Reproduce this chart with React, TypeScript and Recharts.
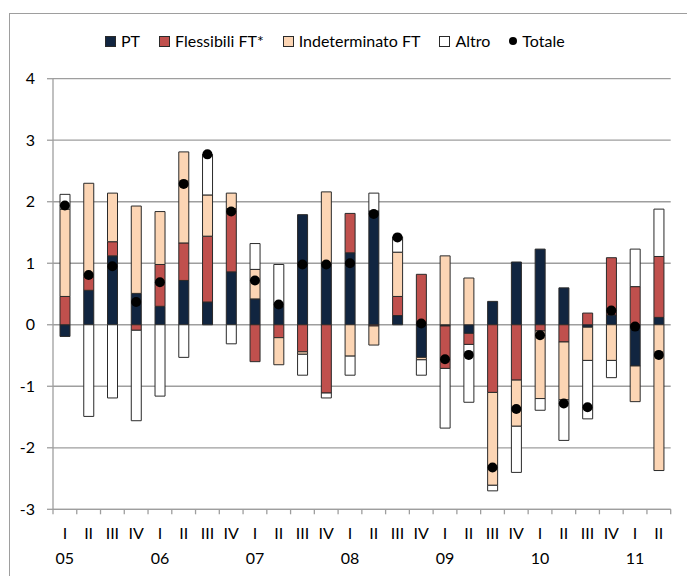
import React from 'react';
import { ComposedChart, Bar, Line, XAxis, YAxis, CartesianGrid, Legend } from 'recharts';

const quarterLabels = ['I','II','III','IV','I','II','III','IV','I','II','III','IV','I','II','III','IV','I','II','III','IV','I','II','III','IV','I','II'];
const yearLabels = ['05','','','','06','','','','07','','','','08','','','','09','','','','10','','','','11',''];

const pt = [-0.19, 0.56, 1.12, 0.51, 0.30, 0.72, 0.37, 0.86, 0.42, 0.30, 1.79, 1.00, 1.17, 1.85, 0.15, -0.53, -0.02, -0.14, 0.38, 1.02, 1.23, 0.60, -0.04, 0.16, -0.67, 0.12];
const flessibili = [0.46, 0.22, 0.23, -0.09, 0.68, 0.61, 1.07, 1.03, -0.60, -0.21, -0.44, -1.11, 0.64, -0.02, 0.31, 0.82, -0.69, -0.18, -1.10, -0.90, -0.10, -0.28, 0.19, 0.93, 0.62, 0.99];
const indeterminato = [1.42, 1.52, 0.79, 1.42, 0.86, 1.48, 0.67, 0.25, 0.48, -0.44, -0.04, 1.16, -0.51, -0.31, 0.72, -0.04, 1.12, 0.76, -1.51, -0.75, -1.10, -0.94, -0.54, -0.58, -0.58, -2.37];
const altro = [0.24, -1.49, -1.19, -1.47, -1.16, -0.53, 0.66, -0.31, 0.42, 0.68, -0.34, -0.08, -0.31, 0.29, 0.25, -0.25, -0.97, -0.94, -0.09, -0.75, -0.19, -0.66, -0.95, -0.28, 0.61, 0.77];
const totale = [1.94, 0.81, 0.95, 0.37, 0.69, 2.29, 2.77, 1.84, 0.72, 0.33, 0.98, 0.98, 1.00, 1.80, 1.42, 0.02, -0.56, -0.49, -2.32, -1.37, -0.17, -1.28, -1.34, 0.23, -0.03, -0.49];
const yTicks = [-3, -2, -1, 0, 1, 2, 3, 4];

const C_PT = '#112540';
const C_FLEX = '#c0504d';
const C_IND = '#fcd5b4';
const C_ALT = '#ffffff';
const EDGE = '#2a2a2a';
const GRID = '#9e9e9e';
const FONT = 'Lato, "Open Sans", sans-serif';
const FS = 16;

const data = quarterLabels.map((q, i) => ({
  cat: `${i}`,
  q,
  yr: yearLabels[i],
  pt: pt[i],
  flex: flessibili[i],
  ind: indeterminato[i],
  alt: altro[i],
  tot: totale[i],
}));

const XTick = (props: any) => {
  const { x, y, payload, index } = props;
  const i = typeof index === 'number' ? index : Number(payload.value);
  const off = payload.offset ?? 0;
  const row = data[i];
  return (
    <g>
      <line x1={x - off} x2={x - off} y1={y} y2={y + 5} stroke={GRID} strokeWidth={1.3} />
      {i === data.length - 1 && (
        <line x1={x + off} x2={x + off} y1={y} y2={y + 5} stroke={GRID} strokeWidth={1.3} />
      )}
      <text x={x} y={y + 30} textAnchor="middle" fontSize={FS} fontFamily={FONT} fill="#000">{row.q}</text>
      {row.yr && (
        <text x={x} y={y + 55} textAnchor="middle" fontSize={FS} fontFamily={FONT} fill="#000">{row.yr}</text>
      )}
    </g>
  );
};

const legendItems = [
  { label: 'PT', color: C_PT, shape: 'square' },
  { label: 'Flessibili FT*', color: C_FLEX, shape: 'square' },
  { label: 'Indeterminato FT', color: C_IND, shape: 'square' },
  { label: 'Altro', color: C_ALT, shape: 'square' },
  { label: 'Totale', color: '#000', shape: 'circle' },
];

const LegendContent = () => (
  <div style={{ display: 'flex', alignItems: 'center', paddingLeft: 105, fontFamily: FONT, fontSize: FS, color: '#000', height: 20 }}>
    {legendItems.map((it) => (
      <div key={it.label} style={{ display: 'flex', alignItems: 'center', marginRight: 19 }}>
        {it.shape === 'square' ? (
          <span style={{ display: 'inline-block', width: 9, height: 9, background: it.color, border: `1px solid ${EDGE}` }} />
        ) : (
          <span style={{ display: 'inline-block', width: 8, height: 8, background: it.color, borderRadius: '50%' }} />
        )}
        <span style={{ marginLeft: 5, lineHeight: '20px' }}>{it.label}</span>
      </div>
    ))}
  </div>
);

export default function App() {
  return (
    <div style={{ position: 'absolute', left: 0, top: 0, width: 687, height: 576, overflow: 'hidden', background: '#fff' }}>
      <div style={{ position: 'absolute', left: 9, top: 13, right: 0, bottom: 0, borderLeft: `1px solid ${GRID}`, borderTop: `1px solid ${GRID}` }} />
      <div style={{ position: 'absolute', left: 0, top: 0 }}>
        <ComposedChart
          width={687}
          height={576}
          data={data}
          stackOffset="sign"
          barSize={10}
          margin={{ top: 78.7, right: 16.3, bottom: 6.7, left: 0 }}
        >
          <CartesianGrid horizontal vertical={false} stroke={GRID} strokeWidth={1.3} />
          <XAxis
            dataKey="cat"
            type="category"
            height={60}
            tickSize={0}
            tickMargin={0}
            tickLine={false}
            axisLine={{ stroke: GRID, strokeWidth: 1.3 }}
            tick={<XTick />}
            interval={0}
          />
          <YAxis
            type="number"
            domain={[-3, 4]}
            ticks={yTicks}
            width={53}
            tickSize={6}
            tickMargin={12}
            axisLine={{ stroke: GRID, strokeWidth: 1.3 }}
            tickLine={{ stroke: GRID, strokeWidth: 1.3 }}
            tick={{ fill: '#000', fontSize: FS, fontFamily: FONT }}
            interval={0}
          />
          <Legend
            verticalAlign="middle"
            align="center"
            layout="horizontal"
            wrapperStyle={{ top: 31, left: 0, width: 687 }}
            content={<LegendContent />}
          />
          <Bar dataKey="pt" name="PT" stackId="s" fill={C_PT} stroke={EDGE} strokeWidth={1} isAnimationActive={false} />
          <Bar dataKey="flex" name="Flessibili FT*" stackId="s" fill={C_FLEX} stroke={EDGE} strokeWidth={1} isAnimationActive={false} />
          <Bar dataKey="ind" name="Indeterminato FT" stackId="s" fill={C_IND} stroke={EDGE} strokeWidth={1} isAnimationActive={false} />
          <Bar dataKey="alt" name="Altro" stackId="s" fill={C_ALT} stroke={EDGE} strokeWidth={1} isAnimationActive={false} />
          <Line
            dataKey="tot"
            name="Totale"
            stroke="none"
            dot={{ r: 5, fill: '#000', stroke: '#000', strokeWidth: 0 }}
            activeDot={false}
            isAnimationActive={false}
            legendType="circle"
          />
        </ComposedChart>
      </div>
    </div>
  );
}
